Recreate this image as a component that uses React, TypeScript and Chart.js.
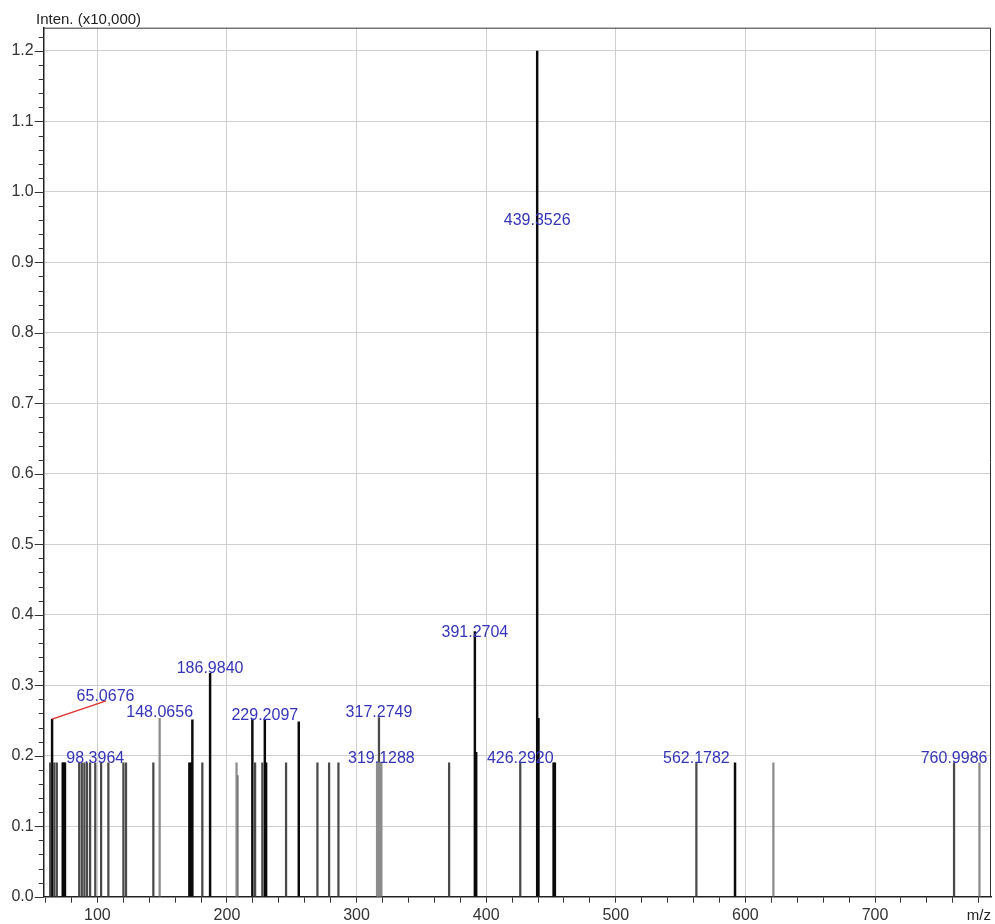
import React, { useEffect, useRef } from 'react';
import { Chart, registerables } from 'chart.js';

Chart.register(...registerables);

// ---- data (m/z, relative intensity x10,000) ----
const strongMz = [65.0676, 73.3, 74.1, 75.0, 171.0, 172.3, 173.3, 186.984, 219.6, 229.2097, 230.2, 255.4, 391.2704, 392.3, 439.3526, 440.35, 452.0, 453.0, 592.0];
const strongInt = [0.252, 0.19, 0.19, 0.19, 0.19, 0.19, 0.251, 0.317, 0.252, 0.251, 0.19, 0.248, 0.376, 0.205, 1.2, 0.253, 0.19, 0.19, 0.19];

const mediumMz = [63.6, 66.8, 68.7, 86.0, 88.0, 90.0, 92.0, 94.4, 98.3964, 102.9, 108.5, 120.1, 122.1, 143.2, 181.0, 208.0, 221.7, 227.3, 245.6, 269.8, 278.8, 286.0, 317.2749, 371.4, 426.292, 562.1782, 760.9986];
const mediumInt = [0.19, 0.19, 0.19, 0.19, 0.19, 0.19, 0.19, 0.19, 0.19, 0.19, 0.19, 0.19, 0.19, 0.19, 0.19, 0.172, 0.19, 0.19, 0.19, 0.19, 0.19, 0.19, 0.254, 0.19, 0.19, 0.19, 0.19];

const weakMz = [148.0656, 207.4, 315.8, 316.6, 318.0, 319.1288, 621.6, 780.6];
const weakInt = [0.253, 0.19, 0.19, 0.19, 0.19, 0.19, 0.19, 0.19];

const peakLabels = ['65.0676', '98.3964', '148.0656', '186.9840', '229.2097', '317.2749', '319.1288', '391.2704', '426.2920', '439.3526', '562.1782', '760.9986'];
const labelMz = [106.3, 98.4, 148.07, 186.98, 229.21, 317.27, 319.13, 391.27, 426.29, 439.35, 562.18, 761.0];
const labelLevel = [0.278, 0.19, 0.255, 0.317, 0.251, 0.255, 0.19, 0.368, 0.19, 0.953, 0.19, 0.19];

// leader line for 65.0676
const leaderFrom = { mz: 65.0676, level: 0.252 };
const leaderTo = { mz: 106.7, level: 0.278 };

const X_MIN = 58.6;
const X_MAX = 789.5;
const Y_MIN = 0;
const Y_MAX = 1.233;

const FONT = '"Liberation Sans", Arial, sans-serif';

const isMultiple = (v: number, step: number) => Math.abs(v / step - Math.round(v / step)) < 1e-6;

const decorPlugin = {
  id: 'decor',
  afterDraw(chart: any) {
    const { ctx, chartArea, scales } = chart;
    const x = scales.x;
    const y = scales.y;
    ctx.save();

    // top and right frame
    ctx.strokeStyle = '#333';
    ctx.lineWidth = 1;
    ctx.beginPath();
    ctx.moveTo(chartArea.left, chartArea.top + 0.5);
    ctx.lineTo(chartArea.right - 0.5, chartArea.top + 0.5);
    ctx.lineTo(chartArea.right - 0.5, chartArea.bottom);
    ctx.stroke();

    // y tick marks (major 0.1, minor 0.02)
    ctx.strokeStyle = '#333';
    ctx.lineWidth = 1;
    for (let i = 0; i <= Math.floor(Y_MAX / 0.02 + 1e-6); i++) {
      const v = i * 0.02;
      const py = Math.round(y.getPixelForValue(v)) + 0.5;
      const len = isMultiple(v, 0.1) ? 9 : 5;
      ctx.beginPath();
      ctx.moveTo(chartArea.left - len, py);
      ctx.lineTo(chartArea.left, py);
      ctx.stroke();
    }

    // leader line
    ctx.strokeStyle = '#e0302a';
    ctx.lineWidth = 1.3;
    ctx.beginPath();
    ctx.moveTo(x.getPixelForValue(leaderFrom.mz), y.getPixelForValue(leaderFrom.level));
    ctx.lineTo(x.getPixelForValue(leaderTo.mz), y.getPixelForValue(leaderTo.level));
    ctx.stroke();

    // peak labels
    ctx.fillStyle = '#3434b8';
    ctx.font = `16px ${FONT}`;
    ctx.textAlign = 'center';
    ctx.textBaseline = 'alphabetic';
    peakLabels.forEach((t, i) => {
      ctx.fillText(t, x.getPixelForValue(labelMz[i]), y.getPixelForValue(labelLevel[i]));
    });

    // axis titles
    ctx.fillStyle = '#222';
    ctx.font = `15px ${FONT}`;
    ctx.textAlign = 'left';
    ctx.fillText('Inten. (x10,000)', 36, 24);
    ctx.font = `15px ${FONT}`;
    ctx.textAlign = 'right';
    ctx.fillText('m/z', chartArea.right, 920);

    ctx.restore();
  },
};

export default function App() {
  const canvasRef = useRef<HTMLCanvasElement | null>(null);

  useEffect(() => {
    const canvas = canvasRef.current;
    if (!canvas) return;
    const mk = (mz: number[], it: number[]) => mz.map((m, i) => ({ x: m, y: it[i] }));
    const chart = new Chart(canvas, {
      type: 'bar',
      data: {
        datasets: [
          { data: mk(weakMz, weakInt), backgroundColor: '#8c8c8c', barThickness: 1.6, grouped: false } as any,
          { data: mk(mediumMz, mediumInt), backgroundColor: '#4a4a4a', barThickness: 1.6, grouped: false } as any,
          { data: mk(strongMz, strongInt), backgroundColor: '#0a0a0a', barThickness: 1.8, grouped: false } as any,
        ],
      },
      options: {
        animation: false,
        responsive: false,
        devicePixelRatio: 1,
        layout: { padding: { top: 27.7, right: 4, left: 0, bottom: 0 } },
        plugins: { legend: { display: false }, tooltip: { enabled: false } },
        scales: {
          x: {
            type: 'linear',
            min: X_MIN,
            max: X_MAX,
            offset: false,
            afterFit: (s: any) => { s.height = 27.3; },
            border: { display: true, color: '#222', width: 1.5 },
            grid: {
              offset: false,
              color: (c: any) => (c.tick && isMultiple(c.tick.value, 100) ? '#cfcfcf' : 'rgba(0,0,0,0)'),
              lineWidth: 1,
              drawTicks: true,
              tickLength: 6,
              tickColor: '#333',
            },
            ticks: {
              stepSize: 20,
              includeBounds: false,
              autoSkip: false,
              maxRotation: 0,
              padding: 3,
              color: '#333',
              font: { family: FONT, size: 16 },
              callback: (v: any) => (isMultiple(Number(v), 100) ? String(v) : ''),
            },
          } as any,
          y: {
            type: 'linear',
            min: Y_MIN,
            max: Y_MAX,
            afterFit: (s: any) => { s.width = 43.7; },
            border: { display: true, color: '#222', width: 1.5 },
            grid: {
              color: '#cfcfcf',
              lineWidth: 1,
              drawTicks: false,
            },
            ticks: {
              stepSize: 0.1,
              includeBounds: false,
              autoSkip: false,
              padding: 10,
              color: '#333',
              font: { family: FONT, size: 16 },
              callback: (v: any) => Number(v).toFixed(1),
            },
          } as any,
        },
      },
      plugins: [decorPlugin],
    });
    return () => chart.destroy();
  }, []);

  return (
    <div style={{ position: 'absolute', left: 0, top: 0, width: 995, height: 924, background: '#fff' }}>
      <canvas ref={canvasRef} width={995} height={924} style={{ display: 'block', width: 995, height: 924 }} />
    </div>
  );
}
